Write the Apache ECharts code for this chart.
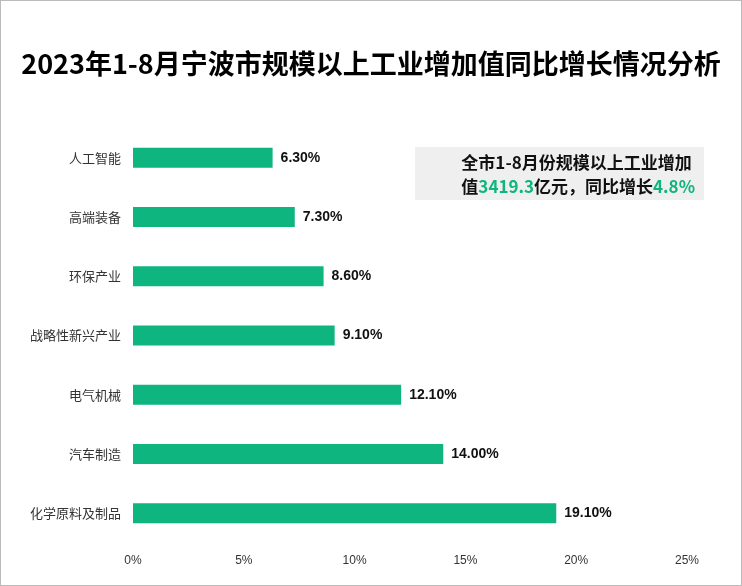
<!DOCTYPE html>
<html><head><meta charset="utf-8">
<script src="https://cdn.jsdelivr.net/npm/echarts@6/dist/echarts.min.js"></script>
<style>html,body{margin:0;padding:0}#c{width:742px;height:586px;box-sizing:border-box;border:1px solid #bbb}</style>
</head><body><div id="c"></div>
<script>
const categories = ['人工智能','高端装备','环保产业','战略性新兴产业','电气机械','汽车制造','化学原料及制品'];
const values = [6.3, 7.3, 8.6, 9.1, 12.1, 14.0, 19.1];
const chart = echarts.init(document.getElementById('c'));
chart.setOption({
  animation:false,
  backgroundColor:'#fff',
  title:{text:'2023年1-8月宁波市规模以上工业增加值同比增长情况分析',left:'center',top:44,
    textStyle:{fontSize:27,fontWeight:'bold',color:'#000',fontFamily:'Noto Sans CJK SC'}},
  grid:{left:132,right:54,top:127,bottom:42,containLabel:false},
  xAxis:{type:'value',min:0,max:25,interval:5,
    axisLabel:{formatter:'{value}%',color:'#333',fontSize:12,margin:12},
    splitLine:{show:false},axisLine:{show:false},axisTick:{show:false}},
  yAxis:{type:'category',inverse:true,data:categories,
    axisLine:{show:false},axisTick:{show:false},
    axisLabel:{color:'#333',fontSize:13,margin:12,fontFamily:'Noto Sans CJK SC'}},
  series:[{type:'bar',data:values,barWidth:20,itemStyle:{color:'#0fb57f'},
    label:{show:true,position:'right',formatter:p=>p.value.toFixed(2)+'%',
      fontWeight:'bold',fontSize:14,color:'#111',distance:8}}],
  graphic:[
    {type:'rect',shape:{x:414,y:146,width:289,height:53},style:{fill:'#efefef'}},
    {type:'text',right:46,top:150,style:{
      text:'全市1-8月份规模以上工业增加\n{n|值}{g|3419.3}{n|亿元，同比增长}{g|4.8%}',
      align:'right',font:'bold 17px "Noto Sans CJK SC"',fill:'#111',lineHeight:24,
      rich:{n:{font:'bold 17px "Noto Sans CJK SC"',fill:'#111'},g:{font:'bold 17px "Noto Sans CJK SC"',fill:'#0fb57f'}}}}
  ]
});
</script></body></html>
